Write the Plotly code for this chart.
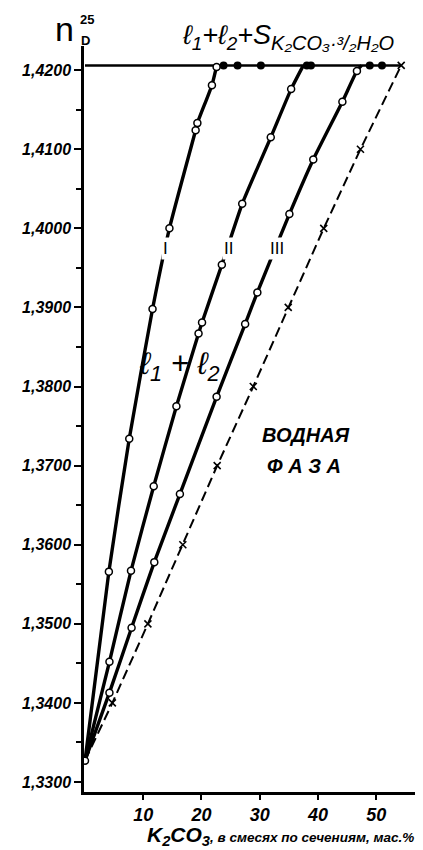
import plotly.graph_objects as go

# ---- data ----
origin_x = [0.0]
origin_n = [1.3327]

curve1_x = [0.0, 4.1, 7.6, 11.6, 14.5, 19.0, 19.3, 21.8, 22.6]
curve1_n = [1.3327, 1.3566, 1.3734, 1.3898, 1.4000, 1.4124, 1.4133, 1.4181, 1.4204]
curve1_end_x = 22.8

curve2_x = [0.0, 4.2, 7.9, 11.8, 15.7, 19.5, 20.1, 23.5, 27.0, 31.9, 35.4]
curve2_n = [1.3327, 1.3452, 1.3567, 1.3674, 1.3775, 1.3867, 1.3881, 1.3954, 1.4031, 1.4115, 1.4176]
curve2_end_x = 37.5

curve3_x = [0.0, 4.2, 8.0, 11.9, 16.3, 22.6, 27.5, 29.6, 35.1, 39.2, 44.2, 46.7]
curve3_n = [1.3327, 1.3413, 1.3495, 1.3578, 1.3664, 1.3787, 1.3879, 1.3919, 1.4018, 1.4087, 1.4160, 1.4199]
curve3_end_x = 47.5

dashed_x = [0.0, 4.7, 10.8, 16.8, 22.7, 28.9, 34.9, 41.0, 47.3, 54.3]
dashed_n = [1.3327, 1.3400, 1.3500, 1.3600, 1.3700, 1.3800, 1.3900, 1.4000, 1.4100, 1.4206]

top_n = 1.4206
top_line_x = [0.0, 54.3]
solid_x = [23.8, 26.2, 30.2, 38.1, 38.8, 48.9, 51.0]

y_ticks = [1.33, 1.34, 1.35, 1.36, 1.37, 1.38, 1.39, 1.40, 1.41, 1.42]
y_ticktext = ["1,3300", "1,3400", "1,3500", "1,3600", "1,3700", "1,3800", "1,3900", "1,4000", "1,4100", "1,4200"]
x_ticks = [10, 20, 30, 40, 50]
x_ticktext = ["10", "20", "30", "40", "50"]

FONT = "Liberation Sans"

fig = go.Figure()

# top horizontal line (three-phase equilibrium)
fig.add_trace(go.Scatter(x=top_line_x, y=[top_n] * len(top_line_x), mode="lines",
                         line=dict(color="black", width=2.5), hoverinfo="skip"))

# dashed line (aqueous phase) with x markers
fig.add_trace(go.Scatter(x=dashed_x, y=dashed_n, mode="lines",
                         line=dict(color="black", width=2, dash="10px,5px"), hoverinfo="skip"))
fig.add_trace(go.Scatter(x=dashed_x[1:], y=dashed_n[1:], mode="markers",
                         marker=dict(symbol="x-thin", size=7, line=dict(color="black", width=1.6)),
                         hoverinfo="skip"))

# solid curves I, II, III
for cx, cn, ex in [(curve1_x, curve1_n, curve1_end_x),
                   (curve2_x, curve2_n, curve2_end_x),
                   (curve3_x, curve3_n, curve3_end_x)]:
    fig.add_trace(go.Scatter(x=cx + [ex], y=cn + [top_n], mode="lines",
                             line=dict(color="black", width=3.4, shape="spline", smoothing=0.5),
                             hoverinfo="skip"))

# label breaks on the curves
for txt, lx in [("I", 13.9), ("II", 24.6), ("III", 32.9)]:
    fig.add_annotation(x=lx, y=1.3975, text=txt, showarrow=False,
                       font=dict(family=FONT, size=17, color="black"),
                       bgcolor="white", borderpad=1)

# open circles
for cx, cn in [(curve1_x[1:], curve1_n[1:]), (curve2_x[1:], curve2_n[1:]), (curve3_x[1:], curve3_n[1:]), (origin_x, origin_n)]:
    fig.add_trace(go.Scatter(x=cx, y=cn, mode="markers",
                             marker=dict(symbol="circle", size=7, color="white",
                                         line=dict(color="black", width=1.5)),
                             hoverinfo="skip"))

# solid phase points on the top line
fig.add_trace(go.Scatter(x=solid_x, y=[top_n] * len(solid_x), mode="markers",
                         marker=dict(symbol="circle", size=8, color="black"), hoverinfo="skip"))

# texts
fig.add_annotation(x=16.2, y=1.3826, text="ℓ<sub>1</sub> + ℓ<sub>2</sub>", showarrow=False,
                   font=dict(family=FONT, size=31, color="black", style="italic"))
fig.add_annotation(x=38.0, y=1.3739, text="ВОДНАЯ", showarrow=False,
                   font=dict(family=FONT, size=20, color="black", weight="bold", style="italic"))
fig.add_annotation(x=37.6, y=1.3700, text="Ф А З А", showarrow=False,
                   font=dict(family=FONT, size=20, color="black", weight="bold", style="italic"))
fig.add_annotation(x=16.3, y=1.4218, xanchor="left", yanchor="bottom",
                   text="ℓ<sub>1</sub>+ℓ<sub>2</sub>+S<sub><span style='font-size:20px'>K₂CO₃·³/₂H₂O</span></sub>",
                   showarrow=False,
                   font=dict(family=FONT, size=27, color="black", style="italic"))

# y-axis title n_D^25
fig.add_annotation(xref="paper", yref="paper", x=-0.024, y=0.994, xanchor="right", yanchor="bottom",
                   text="n", showarrow=False,
                   font=dict(family=FONT, size=34, color="black"))
fig.add_annotation(xref="paper", yref="paper", x=-0.018, y=1.035, xanchor="left", yanchor="middle",
                   text="25", showarrow=False,
                   font=dict(family=FONT, size=13, color="black", weight="bold"))
fig.add_annotation(xref="paper", yref="paper", x=-0.016, y=1.007, xanchor="left", yanchor="middle",
                   text="D", showarrow=False,
                   font=dict(family=FONT, size=13, color="black", weight="bold"))

# x-axis title
fig.add_annotation(xref="paper", yref="paper", x=0.982, y=-0.0775, xanchor="right", yanchor="bottom",
                   text="<span style='font-size:21px'>K<sub>2</sub>CO<sub>3</sub></span>, в смесях по сечениям, мас.%",
                   showarrow=False, borderpad=0,
                   font=dict(family=FONT, size=13.5, color="black", weight="bold", style="italic"))

fig.update_layout(
    width=415, height=842,
    margin=dict(l=76, r=2, t=38, b=58),
    plot_bgcolor="white", paper_bgcolor="white",
    showlegend=False,
    xaxis=dict(range=[-0.17, 57.7], showgrid=False, zeroline=False,
               showline=True, linecolor="black", linewidth=2.5,
               tickvals=x_ticks, ticktext=x_ticktext, ticks="outside", ticklen=5, tickwidth=2,
               tickcolor="black",
               tickfont=dict(family=FONT, size=18, color="black", weight="bold", style="italic")),
    yaxis=dict(range=[1.32874, 1.42305], showgrid=False, zeroline=False,
               showline=True, linecolor="black", linewidth=2.5,
               tickvals=y_ticks, ticktext=y_ticktext, ticks="outside", ticklen=7, tickwidth=2,
               tickcolor="black",
               minor=dict(dtick=0.005, tick0=1.33, ticks="outside", ticklen=5, tickwidth=1.5, tickcolor="black"),
               tickfont=dict(family=FONT, size=16, color="black", weight="bold", style="italic")),
)

fig.write_html("out.html")
